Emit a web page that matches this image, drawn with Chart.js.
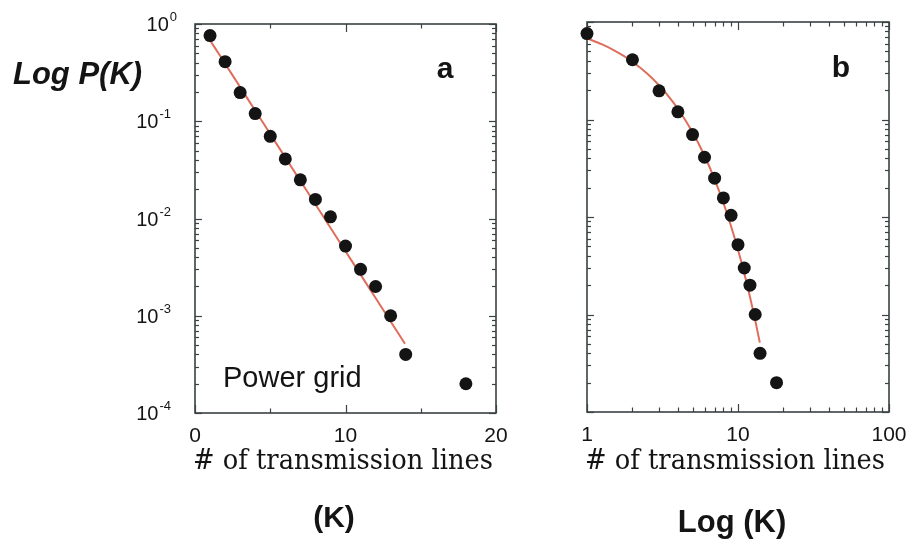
<!DOCTYPE html>
<html>
<head>
<meta charset="utf-8">
<script src="https://cdn.jsdelivr.net/npm/chart.js@4.4.1/dist/chart.umd.min.js"></script>
<style>
  html, body { margin: 0; padding: 0; background: #fff; }
  #wrap { position: relative; width: 910px; height: 540px; }
  canvas { position: absolute; left: 0; top: 0; }
</style>
</head>
<body>
<div id="wrap">
  <canvas id="panelA" width="910" height="540"></canvas>
  <canvas id="panelB" width="910" height="540"></canvas>
</div>
<script>
// Degree distribution of the power grid: number of transmission lines K vs P(K)
const degreeK = [1, 2, 3, 4, 5, 6, 7, 8, 9, 10, 11, 12, 13, 14, 18];
const probP   = [0.76, 0.41, 0.197, 0.12, 0.070, 0.041, 0.025, 0.0157, 0.0104, 0.0052, 0.0030, 0.0020, 0.0010, 0.0004, 0.0002];

// Exponential fit curve
const fitK = [1, 1.25, 1.5, 1.75, 2, 2.5, 3, 3.5, 4, 5, 6, 7, 8, 9, 10, 11, 12, 13, 13.95];
const fitP = [0.6808, 0.5925, 0.5158, 0.4490, 0.3908, 0.2961, 0.2244, 0.1700, 0.1288, 0.07396, 0.04246, 0.02438, 0.01400, 0.008035, 0.004613, 0.002649, 0.001521, 0.000873, 0.0005152];

// Axis ticks
const yDecades   = [1e-4, 1e-3, 1e-2, 1e-1, 1];
const yExponents = ['-4', '-3', '-2', '-1', '0'];
const xMajorA = [0, 10, 20];
const xMinorA = [5, 15];
const xMajorB = [1, 10, 100];
const minorSteps = [2, 3, 4, 5, 6, 7, 8, 9];

const INK = '#141414';
const FRAME = '#3a4244';
const FIT_RED = '#df6d5c';
const SANS = "'Liberation Sans', Arial, Helvetica, sans-serif";
const SERIF = "'DejaVu Serif', 'Liberation Serif', serif";

const yMinor = [];
yDecades.slice(0, -1).forEach(d => minorSteps.forEach(m => yMinor.push(d * m)));
const xMinorB = [];
xMajorB.slice(0, -1).forEach(d => minorSteps.forEach(m => xMinorB.push(d * m)));

function seg(ctx, x1, y1, x2, y2) {
  ctx.beginPath(); ctx.moveTo(x1, y1); ctx.lineTo(x2, y2); ctx.stroke();
}

// Frame with inward ticks on all four sides, tick labels and annotations
const axisFrame = {
  id: 'axisFrame',
  beforeDatasetsDraw(chart, args, o) {
    const { ctx, chartArea: a, scales: { x, y } } = chart;
    ctx.save();
    ctx.strokeStyle = FRAME;
    ctx.lineWidth = 1.6;
    ctx.strokeRect(a.left, a.top, a.right - a.left, a.bottom - a.top);
    ctx.lineWidth = 1.2;
    const yTick = (v, len) => {
      const py = Math.round(y.getPixelForValue(v)) + 0.5;
      seg(ctx, a.left, py, a.left + len, py);
      seg(ctx, a.right, py, a.right - len, py);
    };
    const xTick = (v, len) => {
      const px = Math.round(x.getPixelForValue(v)) + 0.5;
      seg(ctx, px, a.top, px, a.top + len);
      seg(ctx, px, a.bottom, px, a.bottom - len);
    };
    yDecades.forEach(v => yTick(v, 7));
    yMinor.forEach(v => yTick(v, 4));
    o.xMajor.forEach(v => xTick(v, 8));
    o.xMinor.forEach(v => xTick(v, 4.5));
    ctx.restore();
  },
  afterDatasetsDraw(chart, args, o) {
    const { ctx, chartArea: a, scales: { x, y } } = chart;
    ctx.save();
    ctx.fillStyle = INK;
    // x tick labels
    ctx.font = '21px ' + SANS;
    ctx.textAlign = 'center';
    ctx.textBaseline = 'alphabetic';
    o.xMajor.forEach(v => ctx.fillText(String(v), x.getPixelForValue(v), a.bottom + 29));
    // y tick labels as powers of ten
    if (o.yLabels) {
      yDecades.forEach((v, i) => {
        const py = y.getPixelForValue(v);
        const right = i === yDecades.length - 1 ? 177 : 171;
        ctx.font = '13px ' + SANS;
        ctx.textAlign = 'right';
        ctx.fillText(yExponents[i], right, py - 3);
        const ew = ctx.measureText(yExponents[i]).width;
        ctx.font = '20px ' + SANS;
        ctx.fillText('10', right - ew - 1, py + 7);
      });
    }
    // titles and annotations
    o.texts.forEach(t => {
      ctx.font = t.font;
      ctx.textAlign = t.align || 'left';
      if (t.width) {
        const w = ctx.measureText(t.text).width;
        ctx.save();
        ctx.translate(t.x, t.y);
        ctx.scale(t.width / w, 1);
        ctx.fillText(t.text, 0, 0);
        ctx.restore();
      } else {
        ctx.fillText(t.text, t.x, t.y);
      }
    });
    ctx.restore();
  }
};

const points = degreeK.map((k, i) => ({ x: k, y: probP[i] }));
const fitLine = fitK.map((k, i) => ({ x: k, y: fitP[i] }));

function makePanel(id, xScale, padding, frameOpts) {
  return new Chart(document.getElementById(id), {
    type: 'scatter',
    data: {
      datasets: [
        {
          data: points,
          showLine: false,
          pointRadius: 6.5,
          pointBorderWidth: 0,
          pointBackgroundColor: INK,
          clip: false
        },
        {
          data: fitLine,
          showLine: true,
          borderColor: FIT_RED,
          borderWidth: 2,
          pointRadius: 0,
          cubicInterpolationMode: 'monotone',
          fill: false,
          clip: false
        }
      ]
    },
    options: {
      responsive: false,
      animation: false,
      events: [],
      layout: { padding },
      plugins: {
        legend: { display: false },
        tooltip: { enabled: false },
        axisFrame: frameOpts
      },
      scales: {
        x: Object.assign({ display: false }, xScale),
        y: { type: 'logarithmic', min: 1e-4, max: 1, display: false }
      }
    },
    plugins: [axisFrame]
  });
}

const xTitle = '# of transmission lines';

makePanel('panelA',
  { type: 'linear', min: 0, max: 20 },
  { left: 195, top: 24, right: 414, bottom: 127 },
  {
    xMajor: xMajorA, xMinor: xMinorA, yLabels: true,
    texts: [
      { text: 'Log P(K)', x: 13, y: 84, font: 'italic bold 31px ' + SANS },
      { text: 'a', x: 445, y: 78, font: 'bold 30px ' + SANS, align: 'center' },
      { text: 'Power grid', x: 223, y: 387, font: '29px ' + SANS },
      { text: xTitle, x: 343, y: 469, font: '27px ' + SERIF, align: 'center', width: 300 },
      { text: '(K)', x: 334, y: 527, font: 'bold 30px ' + SANS, align: 'center' }
    ]
  });

makePanel('panelB',
  { type: 'logarithmic', min: 1, max: 100 },
  { left: 587, top: 22, right: 21, bottom: 128 },
  {
    xMajor: xMajorB, xMinor: xMinorB, yLabels: false,
    texts: [
      { text: 'b', x: 841, y: 77, font: 'bold 30px ' + SANS, align: 'center' },
      { text: xTitle, x: 735, y: 469, font: '27px ' + SERIF, align: 'center', width: 300 },
      { text: 'Log (K)', x: 732, y: 532, font: 'bold 31px ' + SANS, align: 'center' }
    ]
  });
</script>
</body>
</html>
